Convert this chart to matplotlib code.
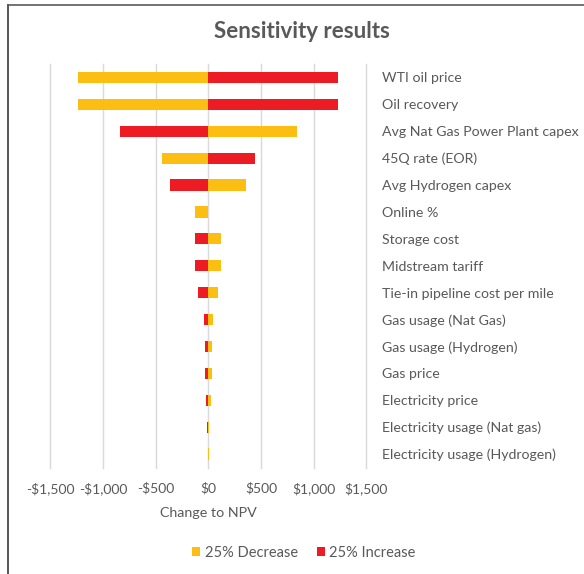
import matplotlib
matplotlib.use("Agg")
import matplotlib.pyplot as plt
from matplotlib.patches import Patch
from matplotlib.lines import Line2D
import numpy as np

plt.rcParams['font.family'] = ['Lato', 'DejaVu Sans']

categories = ["WTI oil price", "Oil recovery", "Avg Nat Gas Power Plant capex",
              "45Q rate (EOR)", "Avg Hydrogen capex", "Online %", "Storage cost",
              "Midstream tariff", "Tie-in pipeline cost per mile", "Gas usage (Nat Gas)",
              "Gas usage (Hydrogen)", "Gas price", "Electricity price",
              "Electricity usage (Nat gas)", "Electricity usage (Hydrogen)"]
decrease_25 = [-1235, -1235, 840, -435, 360, -125, 125, 125, 95, 40, 38, 38, 25, 5, 8]
increase_25 = [1235, 1235, -840, 445, -360, 0, -125, -125, -95, -40, -35, -35, -22, -12, -3]
xticks = [-1500, -1000, -500, 0, 500, 1000, 1500]
series_names = ["25% Decrease", "25% Increase"]

YELLOW = '#FDBE13'
RED = '#ED1C24'
TXT = '#595959'

W, H = 584, 574
fig = plt.figure(figsize=(W / 100, H / 100), dpi=100)
ax = fig.add_axes([50.2 / W, 1 - 467.5 / H, (366.4 - 50.2) / W, (467.5 - 64) / H])

y = np.arange(len(categories))
bh = 0.42
ax.barh(y, decrease_25, height=bh, color=YELLOW, zorder=3)
ax.barh(y, increase_25, height=bh, color=RED, zorder=3)

ax.set_xlim(-1500, 1500)
ax.set_ylim(len(categories) - 0.5, -0.5)
ax.set_xticks(xticks)
ax.set_xticklabels([("-$" if v < 0 else "$") + f"{abs(v):,}" for v in xticks],
                   color=TXT, fontsize=10)
ax.tick_params(axis='x', length=0, pad=10.5)
ax.yaxis.tick_right()
ax.set_yticks(y)
ax.set_yticklabels(categories, color=TXT, fontsize=10.2)
ax.tick_params(axis='y', length=0, pad=11)
for s in ax.spines.values():
    s.set_visible(False)
ax.grid(axis='x', color='#D9D9D9', linewidth=1.0, zorder=0)
for gl in ax.xaxis.get_gridlines():
    gl.set_clip_on(False)
ax.set_axisbelow(True)
ax.set_xlabel("Change to NPV", color=TXT, fontsize=10.3, labelpad=9)

fig.text(302 / W, 1 - 32 / H, "Sensitivity results", ha='center', va='center',
         fontsize=16, fontweight='bold', color=TXT)

handles = [Patch(facecolor=YELLOW), Patch(facecolor=RED)]
fig.legend(handles, series_names, loc='center', bbox_to_anchor=(304 / W, 1 - 553 / H),
           ncol=2, frameon=False, fontsize=10.5, handlelength=0.55, handleheight=0.55,
           handletextpad=0.3, columnspacing=1.3, labelcolor=TXT)

fig.add_artist(Line2D([8 / W, 8 / W], [0, 1 - 5 / H], color='#3A3A3A', linewidth=1.2,
                      transform=fig.transFigure))
fig.add_artist(Line2D([8 / W, 1], [1 - 5 / H, 1 - 5 / H], color='#5A5A5A', linewidth=1.2,
                      transform=fig.transFigure))

fig.savefig("out.png", dpi=100)
